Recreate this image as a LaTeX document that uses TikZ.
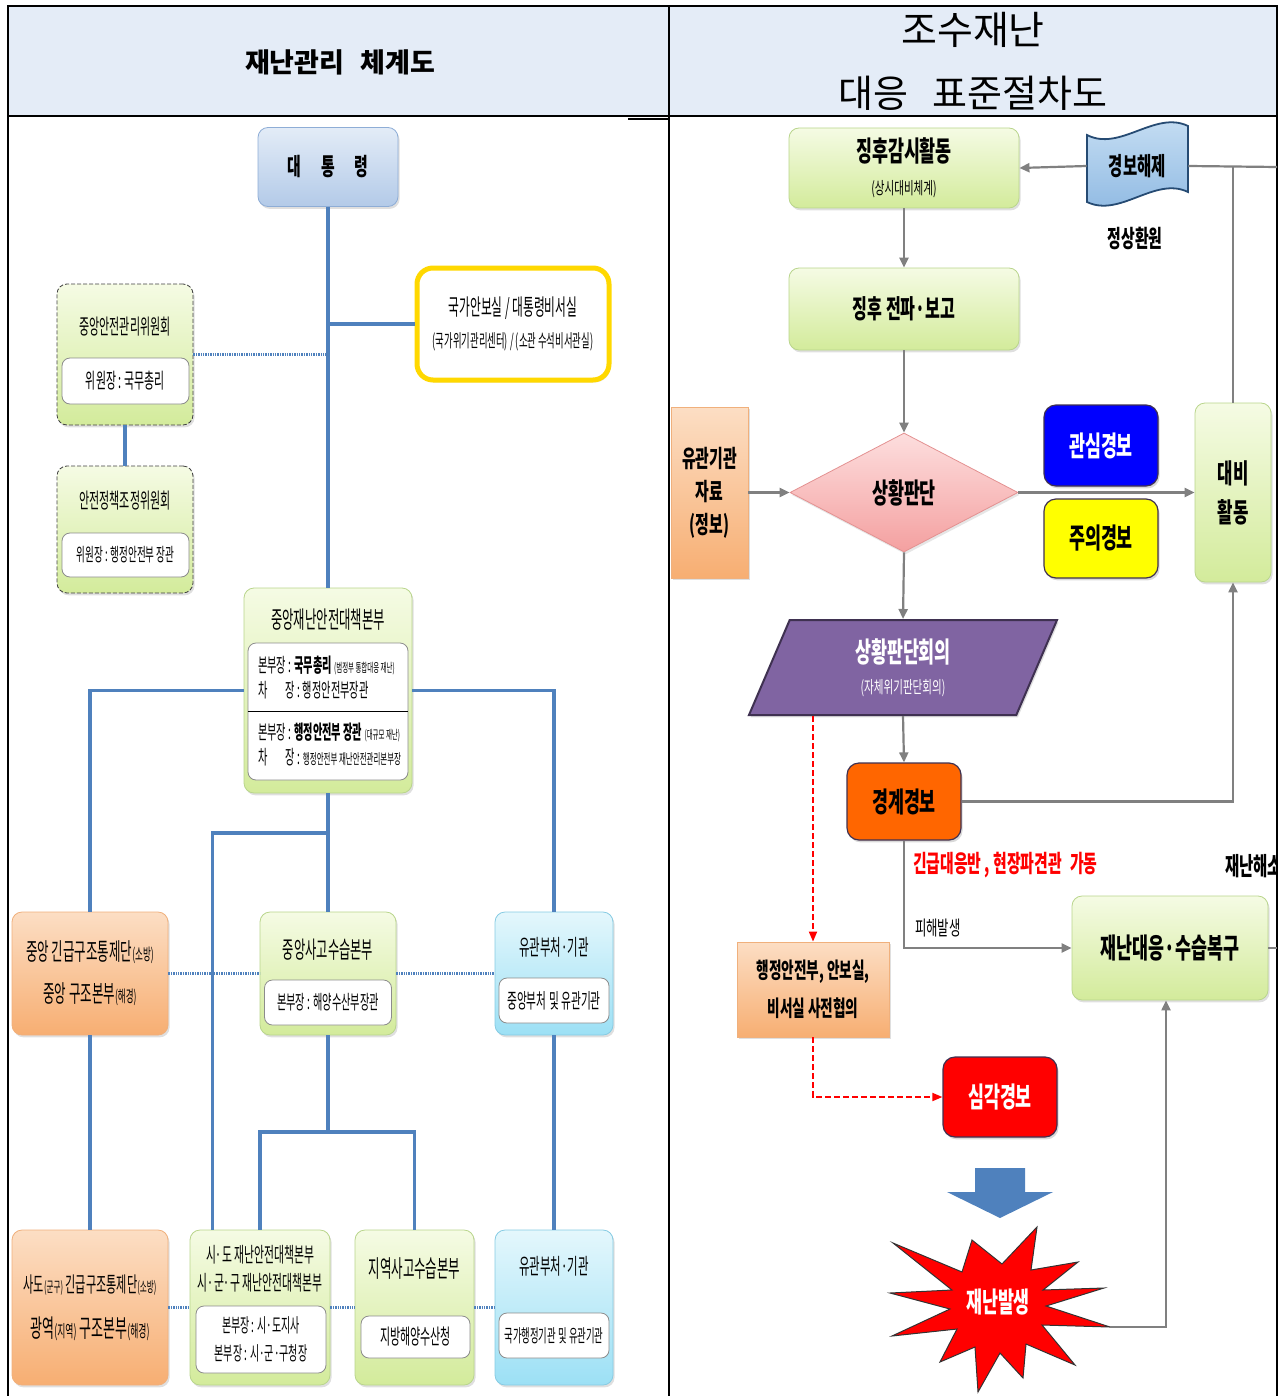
\documentclass[tikz,border=0pt]{standalone}
\usepackage{fontspec}
\setmainfont{Noto Sans CJK KR}
\newfontfamily\kr[FakeStretch=0.62]{Noto Sans CJK KR}
\newfontfamily\krn[FakeStretch=0.52]{Noto Sans CJK KR}
\usetikzlibrary{arrows.meta,positioning,shapes.geometric,shadows}

\newcommand\krsize[1]{\fontsize{#1}{#1}\selectfont}

\definecolor{hdrfill}{HTML}{E4ECF7}
\definecolor{linkblue}{HTML}{4F81BD}
\definecolor{grnTop}{HTML}{F5FBE4}
\definecolor{grnBot}{HTML}{D3EB9B}
\definecolor{grnEdge}{HTML}{B9D58C}
\definecolor{orgTop}{HTML}{FCDEC4}
\definecolor{orgBot}{HTML}{F7AE72}
\definecolor{orgEdge}{HTML}{F0B07C}
\definecolor{cyTop}{HTML}{E4F7FC}
\definecolor{cyBot}{HTML}{9CE0F5}
\definecolor{cyEdge}{HTML}{86CBE3}
\definecolor{presTop}{HTML}{E3ECF7}
\definecolor{presBot}{HTML}{B3CAE8}
\definecolor{presEdge}{HTML}{8EADD6}
\definecolor{nscEdge}{HTML}{FFD800}
\definecolor{flowgray}{HTML}{808080}
\definecolor{alarmblue}{HTML}{0000FF}
\definecolor{alarmyel}{HTML}{FFFF00}
\definecolor{alarmorg}{HTML}{FF6600}
\definecolor{alarmred}{HTML}{FF0000}
\definecolor{meetpurple}{HTML}{8064A2}
\definecolor{meetedge}{HTML}{3F3151}
\definecolor{diaTop}{HTML}{FDDEDE}
\definecolor{diaBot}{HTML}{F4A0A0}
\definecolor{diaEdge}{HTML}{E39191}
\definecolor{tapeTop}{HTML}{C9E0F4}
\definecolor{tapeBot}{HTML}{8DB8E2}
\definecolor{tapeEdge}{HTML}{264B73}

\tikzset{
  box/.style={rounded corners=5pt, inner sep=0pt, align=center,
    drop shadow={opacity=0.25, shadow xshift=0.8pt, shadow yshift=-1.2pt}},
  greenbox/.style={box, draw=grnEdge, top color=grnTop, bottom color=grnBot},
  orangebox/.style={box, draw=orgEdge, top color=orgTop, bottom color=orgBot},
  cyanbox/.style={box, draw=cyEdge, top color=cyTop, bottom color=cyBot},
  innerbox/.style={rounded corners=4pt, draw=black!45, fill=white, inner sep=0pt, align=center},
  dashbox/.style={greenbox, draw=black!75, dash pattern=on 2pt off 1pt},
  alarm/.style={rounded corners=6pt, inner sep=0pt, draw=meetedge, line width=0.6pt,
    font=\kr\bfseries\krsize{14},
    drop shadow={opacity=0.3, shadow xshift=0.8pt, shadow yshift=-1.2pt}},
  link/.style={draw=linkblue, line width=1.6pt},
  dotlink/.style={draw=linkblue, line width=1.6pt, dash pattern=on 0.7pt off 0.5pt},
  flow/.style={draw=flowgray, line width=1.1pt, -{Triangle[length=5pt,width=4.5pt]}},
  plainflow/.style={draw=flowgray, line width=1.1pt},
  redflow/.style={draw=red, line width=0.9pt, dash pattern=on 3pt off 1.5pt,
    -{Triangle[length=5pt,width=4pt]}},
}

\begin{document}
\begin{tikzpicture}[x=0.5pt,y=-0.5pt]
  \useasboundingbox (0,0) rectangle (1285,1396);

  % frame and headers
  \fill[hdrfill] (8,6) rectangle (1277,116);
  \draw[line width=1pt] (8,1396) -- (8,6) -- (1277,6) -- (1277,1396);
  \draw[line width=1pt] (8,116) -- (1277,116);
  \draw[line width=1pt] (669,6) -- (669,1396);
  \draw[line width=0.7pt] (628,119) -- (668,119);
  \node[font=\bfseries\krsize{13.5}] (lefttitle) at (340,62) {재난관리\hspace{8pt}체계도};
  \node[font=\krsize{19.5}] (righttitle) at (973,30) {조수재난};
  \node[font=\krsize{19}] (righttitleb) at (973,93) {대응\hspace{12pt}표준절차도};

  % ---- left : disaster management system ----
  \node[box, draw=presEdge, top color=presTop, bottom color=presBot,
    minimum width=70pt, minimum height=39.5pt, font=\kr\bfseries\krsize{12}]
    (pres) at (328,167) {대\hspace{10pt}통\hspace{10pt}령};

  \node[rounded corners=8pt, draw=nscEdge, line width=2.5pt, fill=white, align=center,
    minimum width=96pt, minimum height=56pt, font=\krn\krsize{11.3},
    drop shadow={opacity=0.25, shadow xshift=0.8pt, shadow yshift=-1.2pt}]
    (nsc) at (513,324) {국가안보실 / 대통령비서실\\[4.5pt]{\krsize{9}(국가위기관리센터) / (소관 수석비서관실)}};

  \node[dashbox, minimum width=68pt, minimum height=70.5pt] (ccom1) at (125,354.5) {};
  \node[font=\krn\krsize{10.6}] (ccom1t) at (125,327) {중앙안전관리위원회};
  \node[innerbox, minimum width=63.5pt, minimum height=23pt, font=\krn\krsize{10.5}]
    (ccom1in) at (125.5,381) {위원장 : 국무총리};

  \node[dashbox, minimum width=68pt, minimum height=63.5pt] (ccom2) at (125,529.5) {};
  \node[font=\krn\krsize{10.6}] (ccom2t) at (125,501) {안전정책조정위원회};
  \node[innerbox, minimum width=63.5pt, minimum height=22pt, font=\krn\krsize{9.2}]
    (ccom2in) at (125.5,555) {위원장 : 행정안전부 장관};

  \node[greenbox, minimum width=84pt, minimum height=102.5pt] (hq) at (328,690.5) {};
  \node[font=\krn\krsize{11.9}] (hqt) at (328,620) {중앙재난안전대책본부};
  \node[innerbox, minimum width=80pt, minimum height=68.5pt] (hqin) at (328,711.5) {};
  \draw[line width=0.8pt] (hqin.west) -- (hqin.east);
  \node[anchor=west, align=left, font=\krn\krsize{9.8}] (hqtop) at (251,677)
    {본부장 : {\bfseries 국무총리} {\krsize{6.2}(범정부 통합대응 재난)}\\[2.7pt]
     차\hspace{9pt}장 : 행정안전부장관};
  \node[anchor=west, align=left, font=\krn\krsize{9.8}] (hqbot) at (251,744)
    {본부장 : {\bfseries 행정안전부 장관} {\krsize{6.2}(대규모 재난)}\\[2.7pt]
     차\hspace{9pt}장 : {\krsize{7.2}행정안전부 재난안전관리본부장}};

  \node[orangebox, minimum width=78pt, minimum height=61.5pt, font=\krn\krsize{12}]
    (ctrl1) at (90,973.5) {중앙 긴급구조통제단{\krsize{8.2}(소방)}\\[9pt]중앙 구조본부{\krsize{8.2}(해경)}};

  \node[greenbox, minimum width=68pt, minimum height=61.5pt] (sea1) at (328,973.5) {};
  \node[font=\krn\krsize{11.8}] (sea1t) at (328,950) {중앙사고수습본부};
  \node[innerbox, minimum width=63.5pt, minimum height=22.5pt, font=\krn\krsize{9.8}]
    (sea1in) at (328,1002.5) {본부장 : 해양수산부장관};

  \node[cyanbox, minimum width=59pt, minimum height=61.5pt] (rel1) at (554,973.5) {};
  \node[font=\krn\krsize{11}] (rel1t) at (554,947) {유관부처·기관};
  \node[innerbox, minimum width=55pt, minimum height=22.5pt, font=\krn\krsize{10.3}]
    (rel1in) at (554,1000.5) {중앙부처 및 유관기관};

  \node[orangebox, minimum width=78pt, minimum height=77.5pt, font=\krn\krsize{10.7}]
    (ctrl2) at (90,1307.5) {사도{\krsize{7.3}(군구)} 긴급구조통제단{\krsize{7.3}(소방)}\\[9.8pt]{\krsize{12.5}광역{\krsize{8.5}(지역)} 구조본부{\krsize{8.5}(해경)}}};

  \node[greenbox, minimum width=70pt, minimum height=77.5pt] (local) at (260,1307.5) {};
  \node[align=center, font=\krn\krsize{10.4}] (localt) at (260,1269)
    {시·도 재난안전대책본부\\[3.6pt]시·군·구 재난안전대책본부};
  \node[innerbox, minimum width=65pt, minimum height=33.5pt, font=\krn\krsize{9.6}]
    (localin) at (261,1339.5) {본부장 : 시·도지사\\[4.4pt]본부장 : 시·군·구청장};

  \node[greenbox, minimum width=59.5pt, minimum height=77.5pt] (sea2) at (414.5,1307.5) {};
  \node[font=\krn\krsize{12}] (sea2t) at (414.5,1268) {지역사고수습본부};
  \node[innerbox, minimum width=54.5pt, minimum height=21pt, font=\krn\krsize{10.6}]
    (sea2in) at (415.5,1337) {지방해양수산청};

  \node[cyanbox, minimum width=59pt, minimum height=77.5pt] (rel2) at (554,1307.5) {};
  \node[font=\krn\krsize{11}] (rel2t) at (554,1266) {유관부처·기관};
  \node[innerbox, minimum width=55pt, minimum height=22.5pt, font=\krn\krsize{9}]
    (rel2in) at (554,1335.5) {국가행정기관 및 유관기관};

  \coordinate (br1) at (328,833);
  \coordinate (br2) at (328,1132);

  \draw[link] (pres.south) -- (hq.north);
  \draw[link] (pres.south |- nsc.west) -- (nsc.west);
  \draw[dotlink] (ccom1.east) -- (ccom1.east -| pres.south);
  \draw[link] (ccom1.south) -- (ccom2.north);
  \draw[link] (hq.west) -| (ctrl1.north);
  \draw[link] (hq.east) -| (rel1.north);
  \draw[link] (hq.south) -- (sea1.north);
  \draw[link] (br1) -| ([xshift=11.5pt]local.north west);
  \draw[link] (ctrl1.south) -- (ctrl2.north);
  \draw[link] (sea1.south) -- (br2);
  \draw[link] (br2) -| (local.north);
  \draw[link] (br2) -| (sea2.north);
  \draw[link] (rel1.south) -- (rel2.north);
  \draw[dotlink] (ctrl1.east) -- (sea1.west);
  \draw[dotlink] (sea1.east) -- (rel1.west);
  \draw[dotlink] (ctrl2.east) -- (local.west);
  \draw[dotlink] (local.east) -- (sea2.west);
  \draw[dotlink] (sea2.east) -- (rel2.west);

  % ---- right : standard response procedure ----
  \node[greenbox, minimum width=115pt, minimum height=40pt, font=\kr\krsize{14}]
    (watch) at (904,168) {\bfseries 징후감시활동\\[2.5pt]{\krsize{8.5}(상시대비체계)}};
  \node[greenbox, minimum width=115pt, minimum height=41pt, font=\kr\bfseries\krsize{13}]
    (report) at (904,309) {징후 전파·보고};

  \path[draw=tapeEdge, line width=0.9pt, top color=tapeTop, bottom color=tapeBot]
    (1087,135) .. controls (1120,152) and (1155,110) .. (1188,126) -- (1188,192)
    .. controls (1155,176) and (1120,218) .. (1087,202) -- cycle;
  \node[minimum width=50.5pt, minimum height=34pt, inner sep=0pt, font=\kr\bfseries\krsize{12.5}]
    (release) at (1137.5,166) {경보해제};
  \node[font=\kr\bfseries\krsize{12}] (normal) at (1135,238) {정상환원};

  \node[diamond, aspect=1.9, minimum width=114pt, minimum height=59.5pt, inner sep=0pt,
    draw=diaEdge, top color=diaTop, bottom color=diaBot, font=\kr\bfseries\krsize{14},
    drop shadow={opacity=0.2, shadow xshift=0.8pt, shadow yshift=-1.2pt}]
    (judge) at (904,492.5) {상황판단};
  \node[box, rounded corners=0pt, draw=orgEdge, top color=orgTop, bottom color=orgBot,
    minimum width=38.5pt, minimum height=85.5pt, font=\kr\bfseries\krsize{12}]
    (data) at (709.5,492.5) {유관기관\\[4.5pt]자료\\[4.5pt](정보)};
  \node[alarm, fill=alarmblue, text=white, minimum width=57pt, minimum height=40.5pt]
    (watch1) at (1101,445.5) {관심경보};
  \node[alarm, fill=alarmyel, minimum width=57pt, minimum height=39.5pt]
    (watch2) at (1101,538.5) {주의경보};
  \node[greenbox, minimum width=38pt, minimum height=89.5pt, font=\kr\bfseries\krsize{13.5}]
    (ready) at (1233,492.5) {대비\\[6pt]활동};

  \node[trapezium, trapezium left angle=55, trapezium right angle=125,
    trapezium stretches body, minimum width=154pt, minimum height=47.5pt, inner sep=0pt,
    fill=meetpurple, draw=meetedge, line width=1pt, text=white, align=center,
    font=\kr\krsize{14},
    drop shadow={opacity=0.25, shadow xshift=0.8pt, shadow yshift=-1.2pt}]
    (meet) at (903,667.5) {\bfseries 상황판단회의\\[1.5pt]{\krsize{8.5}(자체위기판단회의)}};

  \node[alarm, fill=alarmorg, minimum width=57pt, minimum height=38.5pt]
    (alert) at (904,801.5) {경계경보};
  \node[box, rounded corners=0pt, draw=orgEdge, top color=orgTop, bottom color=orgBot,
    minimum width=76pt, minimum height=47.5pt, font=\kr\bfseries\krsize{11}]
    (consult) at (813,989.5) {행정안전부, 안보실,\\[6pt]비서실 사전협의};
  \node[alarm, fill=alarmred, text=white, minimum width=57pt, minimum height=40pt]
    (severe) at (1000,1097) {심각경보};
  \node[greenbox, minimum width=98pt, minimum height=52pt, font=\kr\bfseries\krsize{14}]
    (recover) at (1170,948) {재난대응·수습복구};

  % block arrow and starburst
  \fill[linkblue] (975,1168) -- (1025,1168) -- (1025,1192) -- (1053,1192) -- (1000,1218)
    -- (947,1192) -- (975,1192) -- cycle;
  \filldraw[fill=alarmred, draw=black!80, line width=0.5pt]
    (1037,1227) -- (1031,1270) -- (1078,1262) -- (1043,1290) -- (1104,1288)
    -- (1046,1306) -- (1110,1327) -- (1042,1325) -- (1075,1365) -- (1026,1344)
    -- (1023,1378) -- (1000,1353) -- (978,1392) -- (975,1347) -- (940,1362)
    -- (957,1329) -- (892,1336) -- (950,1309) -- (890,1293) -- (952,1290)
    -- (893,1243) -- (962,1272) -- (972,1240) -- (1002,1264) -- cycle;
  \node[font=\kr\bfseries\krsize{14}, text=white] (burst) at (998,1302) {재난발생};
  \coordinate (bursttip) at (1110,1327);

  \coordinate (exitA) at (1277,167);
  \coordinate (exitB) at (1277,948);

  \draw[flow] (watch) -- (report);
  \draw[flow] (report) -- (judge.north);
  \draw[flow] (data.east) -- (judge.west);
  \draw[flow] (judge.east) -- (ready.west);
  \draw[flow] (judge.south) -- (meet.north);
  \draw[flow] (meet.south) -- (alert.north);
  \draw[flow] (alert.east) -| (ready.south);
  \draw[flow] (release.west) -- (watch.east);
  \draw[plainflow] (release.east) -- (exitA);
  \draw[plainflow] (ready.north) -- (ready.north |- exitA);
  \draw[flow] (alert.south) |- (recover.west);
  \draw[plainflow] (recover.east) -- (exitB);
  \draw[flow] (bursttip) -| ([xshift=-2pt]recover.south);
  \draw[redflow] (consult.north |- meet.south) -- (consult.north);
  \draw[redflow] (consult.south) |- (severe.west);

  \node[anchor=west, text=red, font=\kr\bfseries\krsize{12}] (teamnote) at (906,865)
    {긴급대응반 , 현장파견관\hspace{4pt}가동};
  \node[anchor=west, font=\kr\krsize{10}] (damage) at (908,928) {피해발생};
  \begin{scope}
    \clip (8,6) rectangle (1276,1396);
    \node[anchor=west, font=\kr\bfseries\krsize{12.5}] (resolve) at (1218,866) {재난해소};
  \end{scope}
\end{tikzpicture}
\end{document}
